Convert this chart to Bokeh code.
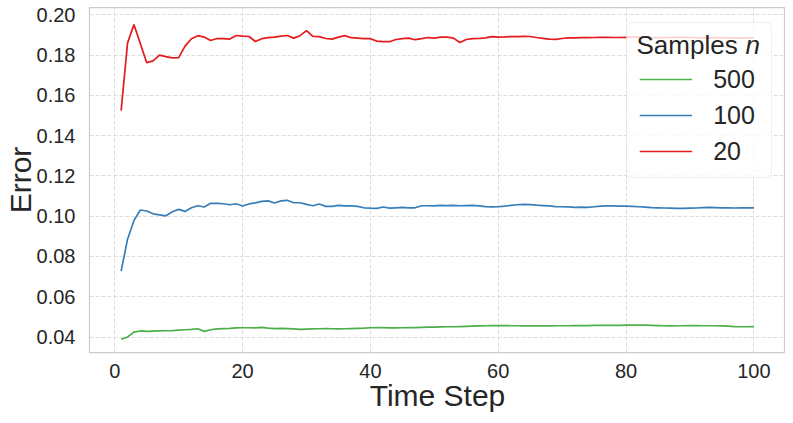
from bokeh.plotting import figure
from bokeh.models import (Range1d, Legend, LegendItem, FixedTicker, Label,
                          PrintfTickFormatter, BoxAnnotation)
from bokeh.embed import file_html
from bokeh.resources import INLINE

steps = list(range(1, 101))

err_20 = [0.1525, 0.1860, 0.1953, 0.1858, 0.1763, 0.1772, 0.1800, 0.1793, 0.1787, 0.1788,
          0.1845, 0.1882, 0.1897, 0.1890, 0.1873, 0.1883, 0.1882, 0.1880, 0.1898, 0.1895,
          0.1893, 0.1868, 0.1882, 0.1887, 0.1890, 0.1895, 0.1898, 0.1885, 0.1897, 0.1922,
          0.1893, 0.1892, 0.1883, 0.1880, 0.1890, 0.1897, 0.1887, 0.1885, 0.1882, 0.1882,
          0.1870, 0.1867, 0.1867, 0.1878, 0.1882, 0.1885, 0.1877, 0.1882, 0.1888, 0.1885,
          0.1890, 0.1890, 0.1885, 0.1863, 0.1878, 0.1882, 0.1883, 0.1886, 0.1892, 0.1890,
          0.1891, 0.1893, 0.1892, 0.1894, 0.1893, 0.1888, 0.1884, 0.1880, 0.1879, 0.1883,
          0.1886, 0.1886, 0.1887, 0.1887, 0.1888, 0.1889, 0.1889, 0.1888, 0.1888, 0.1889,
          0.1890, 0.1890, 0.1889, 0.1888, 0.1887, 0.1887, 0.1888, 0.1889, 0.1889, 0.1888,
          0.1887, 0.1886, 0.1886, 0.1887, 0.1887, 0.1886, 0.1885, 0.1885, 0.1886, 0.1886]

err_100 = [0.0727, 0.0886, 0.0978, 0.1031, 0.1026, 0.1012, 0.1007, 0.1002, 0.1022, 0.1034,
           0.1024, 0.1042, 0.1052, 0.1046, 0.1064, 0.1064, 0.1062, 0.1057, 0.1062, 0.1051,
           0.1061, 0.1066, 0.1074, 0.1076, 0.1066, 0.1076, 0.1079, 0.1067, 0.1067, 0.1059,
           0.1052, 0.1061, 0.1049, 0.1049, 0.1054, 0.1051, 0.1051, 0.1049, 0.1042, 0.1040,
           0.1039, 0.1046, 0.1040, 0.1042, 0.1044, 0.1042, 0.1042, 0.1052, 0.1052, 0.1051,
           0.1054, 0.1053, 0.1054, 0.1052, 0.1053, 0.1054, 0.1051, 0.1048, 0.1046, 0.1047,
           0.1050, 0.1054, 0.1057, 0.1059, 0.1058, 0.1055, 0.1053, 0.1051, 0.1048, 0.1047,
           0.1046, 0.1044, 0.1045, 0.1044, 0.1047, 0.1050, 0.1051, 0.1051, 0.1050, 0.1050,
           0.1049, 0.1047, 0.1045, 0.1043, 0.1042, 0.1041, 0.1040, 0.1039, 0.1039, 0.1040,
           0.1041, 0.1043, 0.1044, 0.1043, 0.1042, 0.1042, 0.1041, 0.1042, 0.1042, 0.1042]

err_500 = [0.0389, 0.0400, 0.0424, 0.0430, 0.0428, 0.0429, 0.0430, 0.0431, 0.0432, 0.0434,
           0.0436, 0.0438, 0.0441, 0.0428, 0.0436, 0.0440, 0.0442, 0.0443, 0.0445, 0.0446,
           0.0446, 0.0445, 0.0448, 0.0444, 0.0442, 0.0443, 0.0442, 0.0440, 0.0438, 0.0439,
           0.0440, 0.0441, 0.0442, 0.0441, 0.0440, 0.0441, 0.0442, 0.0443, 0.0444, 0.0446,
           0.0447, 0.0447, 0.0445, 0.0445, 0.0446, 0.0447, 0.0447, 0.0448, 0.0449, 0.0449,
           0.0450, 0.0451, 0.0451, 0.0452, 0.0453, 0.0454, 0.0455, 0.0456, 0.0457, 0.0457,
           0.0457, 0.0456, 0.0456, 0.0455, 0.0455, 0.0455, 0.0455, 0.0455, 0.0456, 0.0456,
           0.0456, 0.0457, 0.0457, 0.0457, 0.0458, 0.0458, 0.0458, 0.0458, 0.0458, 0.0459,
           0.0459, 0.0459, 0.0459, 0.0458, 0.0457, 0.0456, 0.0455, 0.0456, 0.0456, 0.0457,
           0.0457, 0.0456, 0.0456, 0.0456, 0.0455, 0.0454, 0.0452, 0.0451, 0.0451, 0.0452]

x_ticks = [0, 20, 40, 60, 80, 100]
y_ticks = [0.04, 0.06, 0.08, 0.10, 0.12, 0.14, 0.16, 0.18, 0.20]
series_labels = ["500", "100", "20"]
series_colors = ["#4daf4a", "#377eb8", "#e41a1c"]

FONT = "Liberation Sans"
TXT = "#262626"

p = figure(frame_width=696, frame_height=345, output_backend="svg", toolbar_location=None,
           x_range=Range1d(-3.95, 104.95), y_range=Range1d(0.0323, 0.2037),
           min_border_left=10, min_border_right=0, min_border_top=7, min_border_bottom=10)
p.background_fill_color = "white"
p.border_fill_color = "white"
p.outline_line_color = "#cccccc"
p.outline_line_width = 1.25

r500 = p.line(steps, err_500, line_color=series_colors[0], line_width=1.7)
r100 = p.line(steps, err_100, line_color=series_colors[1], line_width=1.7)
r20 = p.line(steps, err_20, line_color=series_colors[2], line_width=1.7)

p.xaxis.ticker = FixedTicker(ticks=x_ticks)
p.yaxis.ticker = FixedTicker(ticks=y_ticks)
p.yaxis.formatter = PrintfTickFormatter(format="%.2f")
for ax in (p.xaxis[0], p.yaxis[0]):
    ax.axis_line_color = None
    ax.major_tick_line_color = None
    ax.minor_tick_line_color = None
    ax.major_label_text_font = FONT
    ax.major_label_text_font_size = "20px"
    ax.major_label_text_color = TXT
    ax.axis_label_text_font = FONT
    ax.axis_label_text_font_size = "30px"
    ax.axis_label_text_font_style = "normal"
    ax.axis_label_text_color = TXT
p.xaxis.axis_label = "Time Step"
p.yaxis.axis_label = "Error"
p.xaxis.major_label_standoff = 5
p.xaxis.axis_label_standoff = -2
p.yaxis.major_label_standoff = 8
p.yaxis.axis_label_standoff = -3

for g in (p.xgrid[0], p.ygrid[0]):
    g.grid_line_color = "#dddddd"
    g.grid_line_width = 1
    g.grid_line_dash = "4 2"

# legend frame (semi-transparent, rounded) drawn beneath the legend entries
box = BoxAnnotation(left=537, right=682, top=330, bottom=175,
                    left_units="screen", right_units="screen",
                    top_units="screen", bottom_units="screen",
                    fill_color="white", fill_alpha=0.8,
                    line_color="#cccccc", line_width=1, border_radius=4)
p.add_layout(box)

t1 = Label(x=547, y=308, x_units="screen", y_units="screen", text="Samples",
           text_font=FONT, text_font_size="26px", text_color=TXT, text_baseline="alphabetic")
t2 = Label(x=656, y=308, x_units="screen", y_units="screen", text="n",
           text_font=FONT, text_font_size="26px", text_font_style="italic",
           text_color=TXT, text_baseline="alphabetic")
p.add_layout(t1)
p.add_layout(t2)

legend = Legend(items=[LegendItem(label=series_labels[0], renderers=[r500]),
                       LegendItem(label=series_labels[1], renderers=[r100]),
                       LegendItem(label=series_labels[2], renderers=[r20])],
                location="top_right", margin=23, padding=8, spacing=0,
                glyph_width=53, glyph_height=36, label_height=36, label_standoff=21,
                label_text_font=FONT, label_text_font_size="25px", label_text_color=TXT,
                title="Samples n", title_text_font=FONT, title_text_font_size="26px",
                title_text_font_style="normal", title_text_alpha=0.0, title_standoff=0,
                background_fill_alpha=0.0, border_line_color=None)
p.add_layout(legend)

open("out.html", "w").write(file_html(p, INLINE))
